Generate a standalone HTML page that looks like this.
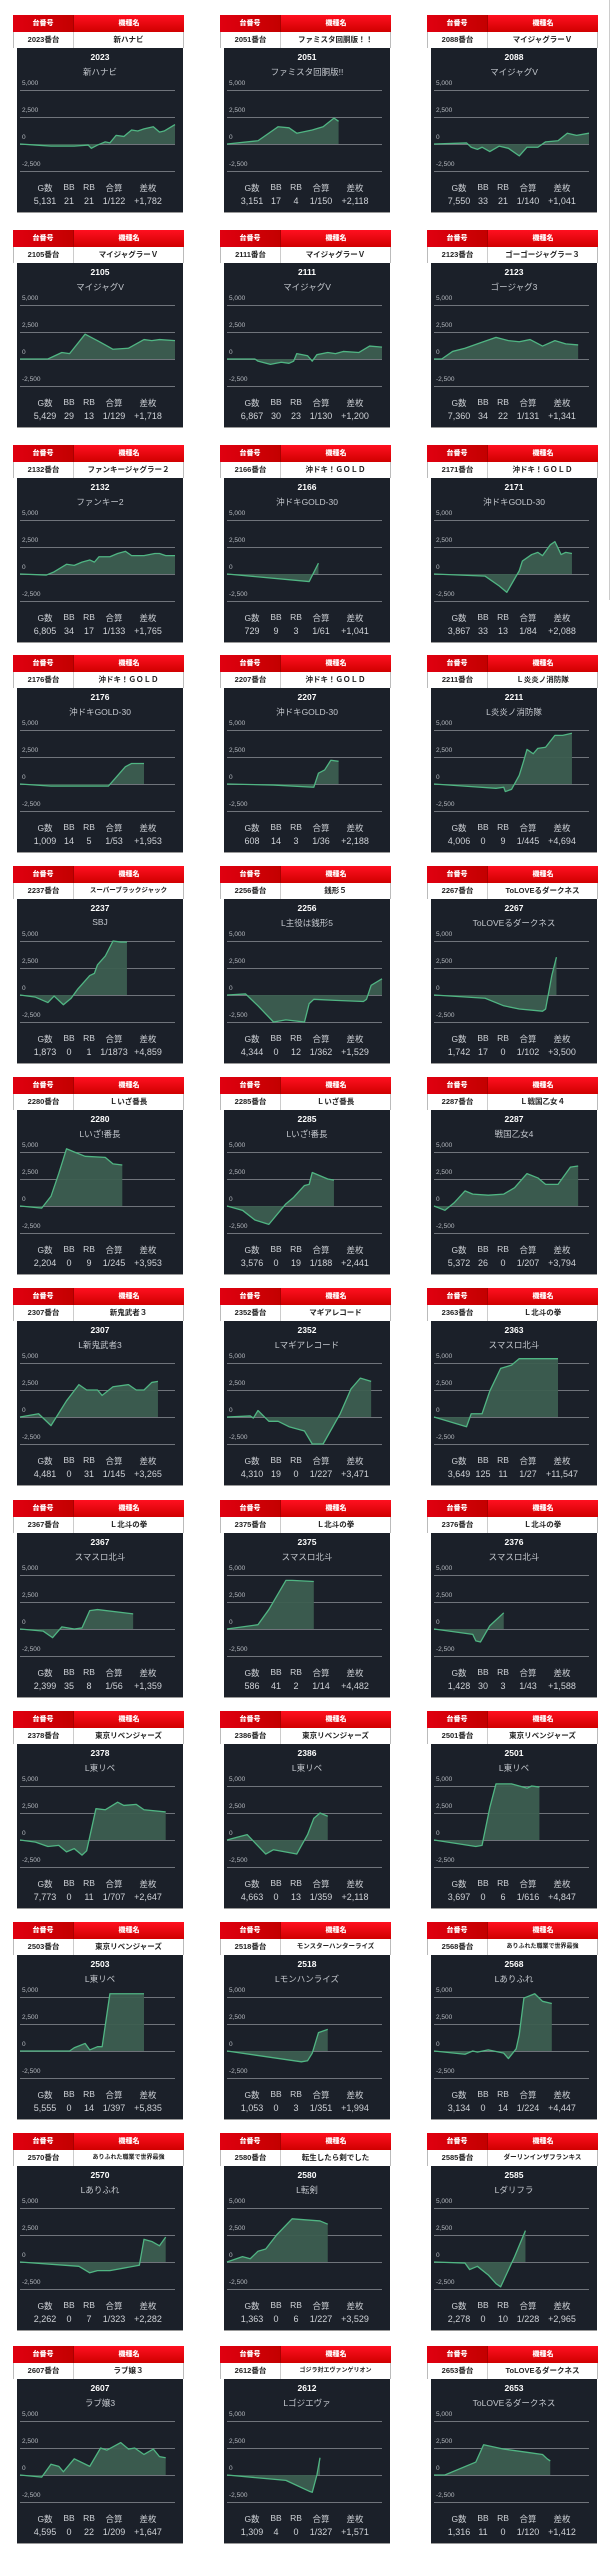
<!DOCTYPE html>
<html><head><meta charset="utf-8">
<style>
*{margin:0;padding:0;box-sizing:border-box}
body{width:611px;height:2560px;background:#fff;position:relative;overflow:hidden;font-family:"Liberation Sans","Noto Sans CJK JP",sans-serif}
.c{position:absolute;width:171px;height:200px}
.h{height:17px;background:linear-gradient(#ff1020,#d00000);display:flex;color:#fff;font-weight:bold;font-size:7px}
.h b{text-align:center;line-height:17px}
.h b:first-child{width:61px;background:linear-gradient(90deg,#e00010,#c40000);border-right:1px solid #a00}
.h b:last-child{flex:1}
.r{height:16px;background:#fff;display:flex;border-left:1px solid #bbb;border-right:1px solid #bbb;font-weight:bold;font-size:7.5px;color:#222;white-space:nowrap;overflow:hidden}
.r span{text-align:center;line-height:16px}
.r span:first-child{width:60px;border-right:1px solid #ccc;flex:none}
.r span:last-child{flex:1}
.p{position:absolute;left:4px;top:33px;width:166px;height:165px;background:#1b2029;border-bottom:1px solid #999}
.t{position:absolute;top:4px;left:0;width:100%;text-align:center;color:#fff;font-weight:bold;font-size:8.5px}
.n{position:absolute;top:18px;left:0;width:100%;text-align:center;color:#c4c8ce;font-size:8.5px;white-space:nowrap}
.g{position:absolute;left:3px;top:42px;width:155px;height:82px;background:repeating-linear-gradient(#70747b 0 1px,transparent 1px 27px)}
.l{position:absolute;left:5px;font-size:6.5px;color:#b5b9bf}
.l1{top:32px}.l2{top:59px}.l3{top:86px}.l4{top:113px}
svg{position:absolute;left:0;top:0;width:166px;height:165px;overflow:visible}
polygon{fill:#3c5e50;fill-opacity:.95}
polyline{fill:none;stroke:#50b583;stroke-width:1.3px;vector-effect:non-scaling-stroke;stroke-linejoin:round}
.s,.v{position:absolute;left:0;width:100%;height:12px;color:#cfd2d7;font-size:8.5px}
.s{top:134px}.v{top:148px;font-size:9px}
.s i,.v i{position:absolute;font-style:normal;transform:translateX(-50%);white-space:nowrap}
.s i:nth-child(1),.v i:nth-child(1){left:28px}
.s i:nth-child(2),.v i:nth-child(2){left:52px}
.s i:nth-child(3),.v i:nth-child(3){left:72px}
.s i:nth-child(4),.v i:nth-child(4){left:97px}
.s i:nth-child(5),.v i:nth-child(5){left:131px}
.sm{font-size:6px!important}
.rl{position:absolute;left:609px;top:0;width:1px;height:600px;background:#ccc}
</style></head><body>
<div class="rl"></div>

<div class="c" style="left:13px;top:15px"><div class="h"><b>台番号</b><b>機種名</b></div><div class="r"><span>2023番台</span><span>新ハナビ</span></div><div class="p"><div class="t">2023</div><div class="n">新ハナビ</div><div class="g"></div><div class="l l1">5,000</div><div class="l l2">2,500</div><div class="l l3">0</div><div class="l l4">-2,500</div><svg><g transform="translate(3,96) scale(1.55,-10.8)"><polygon points="0,0 10,-.1 20,-.2 35,-.2 44,-.1 46,-.4 50,-.1 55,.2 58,.1 62,.8 67,.7 72,1.3 76,1.2 80,1.4 86,1.6 90,1.1 93,1.2 100,1.8 100,0 0,0"/><polyline points="0,0 10,-.1 20,-.2 35,-.2 44,-.1 46,-.4 50,-.1 55,.2 58,.1 62,.8 67,.7 72,1.3 76,1.2 80,1.4 86,1.6 90,1.1 93,1.2 100,1.8"/></g></svg><div class="s"><i>G数</i><i>BB</i><i>RB</i><i>合算</i><i>差枚</i></div><div class="v"><i>5,131</i><i>21</i><i>21</i><i>1/122</i><i>+1,782</i></div></div></div>

<div class="c" style="left:220px;top:15px"><div class="h"><b>台番号</b><b>機種名</b></div><div class="r"><span>2051番台</span><span>ファミスタ回胴版！！</span></div><div class="p"><div class="t">2051</div><div class="n">ファミスタ回胴版!!</div><div class="g"></div><div class="l l1">5,000</div><div class="l l2">2,500</div><div class="l l3">0</div><div class="l l4">-2,500</div><svg><g transform="translate(3,96) scale(1.55,-10.8)"><polygon points="0,0 20,.3 33,1.6 40,1.5 45,1.0 55,1.3 62,1.6 69,2.4 72,2.1 72,0 0,0"/><polyline points="0,0 20,.3 33,1.6 40,1.5 45,1.0 55,1.3 62,1.6 69,2.4 72,2.1"/></g></svg><div class="s"><i>G数</i><i>BB</i><i>RB</i><i>合算</i><i>差枚</i></div><div class="v"><i>3,151</i><i>17</i><i>4</i><i>1/150</i><i>+2,118</i></div></div></div>

<div class="c" style="left:427px;top:15px"><div class="h"><b>台番号</b><b>機種名</b></div><div class="r"><span>2088番台</span><span>マイジャグラーＶ</span></div><div class="p"><div class="t">2088</div><div class="n">マイジャグV</div><div class="g"></div><div class="l l1">5,000</div><div class="l l2">2,500</div><div class="l l3">0</div><div class="l l4">-2,500</div><svg><g transform="translate(3,96) scale(1.55,-10.8)"><polygon points="0,0 21,.1 24,-.3 28,-.5 31,-.3 36,-.7 42,-.2 48,-.4 55,-1.1 60,-.3 67,-.3 72,.2 80,.3 86,1.0 92,.8 100,1.0 100,0 0,0"/><polyline points="0,0 21,.1 24,-.3 28,-.5 31,-.3 36,-.7 42,-.2 48,-.4 55,-1.1 60,-.3 67,-.3 72,.2 80,.3 86,1.0 92,.8 100,1.0"/></g></svg><div class="s"><i>G数</i><i>BB</i><i>RB</i><i>合算</i><i>差枚</i></div><div class="v"><i>7,550</i><i>33</i><i>21</i><i>1/140</i><i>+1,041</i></div></div></div>

<div class="c" style="left:13px;top:230px"><div class="h"><b>台番号</b><b>機種名</b></div><div class="r"><span>2105番台</span><span>マイジャグラーＶ</span></div><div class="p"><div class="t">2105</div><div class="n">マイジャグV</div><div class="g"></div><div class="l l1">5,000</div><div class="l l2">2,500</div><div class="l l3">0</div><div class="l l4">-2,500</div><svg><g transform="translate(3,96) scale(1.55,-10.8)"><polygon points="0,0 18,0 27,.6 32,.5 42,2.3 50,1.7 55,1.3 60,.9 70,1.0 80,1.8 85,1.7 90,1.8 100,1.7 100,0 0,0"/><polyline points="0,0 18,0 27,.6 32,.5 42,2.3 50,1.7 55,1.3 60,.9 70,1.0 80,1.8 85,1.7 90,1.8 100,1.7"/></g></svg><div class="s"><i>G数</i><i>BB</i><i>RB</i><i>合算</i><i>差枚</i></div><div class="v"><i>5,429</i><i>29</i><i>13</i><i>1/129</i><i>+1,718</i></div></div></div>

<div class="c" style="left:220px;top:230px"><div class="h"><b>台番号</b><b>機種名</b></div><div class="r"><span>2111番台</span><span>マイジャグラーＶ</span></div><div class="p"><div class="t">2111</div><div class="n">マイジャグV</div><div class="g"></div><div class="l l1">5,000</div><div class="l l2">2,500</div><div class="l l3">0</div><div class="l l4">-2,500</div><svg><g transform="translate(3,96) scale(1.55,-10.8)"><polygon points="0,0 18,0 20,-.2 28,-.5 35,-.3 40,-.4 43,-.2 45,.5 52,.3 55,-.2 58,.4 65,.6 70,.5 75,.7 85,.6 92,1.2 100,1.1 100,0 0,0"/><polyline points="0,0 18,0 20,-.2 28,-.5 35,-.3 40,-.4 43,-.2 45,.5 52,.3 55,-.2 58,.4 65,.6 70,.5 75,.7 85,.6 92,1.2 100,1.1"/></g></svg><div class="s"><i>G数</i><i>BB</i><i>RB</i><i>合算</i><i>差枚</i></div><div class="v"><i>6,867</i><i>30</i><i>23</i><i>1/130</i><i>+1,200</i></div></div></div>

<div class="c" style="left:427px;top:230px"><div class="h"><b>台番号</b><b>機種名</b></div><div class="r"><span>2123番台</span><span>ゴーゴージャグラー３</span></div><div class="p"><div class="t">2123</div><div class="n">ゴージャグ3</div><div class="g"></div><div class="l l1">5,000</div><div class="l l2">2,500</div><div class="l l3">0</div><div class="l l4">-2,500</div><svg><g transform="translate(3,96) scale(1.55,-10.8)"><polygon points="0,0 5,0 12,.7 20,1.0 30,1.5 40,2.0 48,1.7 55,1.6 62,1.8 70,1.2 78,1.7 85,1.4 93,1.3 93,0 0,0"/><polyline points="0,0 5,0 12,.7 20,1.0 30,1.5 40,2.0 48,1.7 55,1.6 62,1.8 70,1.2 78,1.7 85,1.4 93,1.3"/></g></svg><div class="s"><i>G数</i><i>BB</i><i>RB</i><i>合算</i><i>差枚</i></div><div class="v"><i>7,360</i><i>34</i><i>22</i><i>1/131</i><i>+1,341</i></div></div></div>

<div class="c" style="left:13px;top:445px"><div class="h"><b>台番号</b><b>機種名</b></div><div class="r"><span>2132番台</span><span>ファンキージャグラー２</span></div><div class="p"><div class="t">2132</div><div class="n">ファンキー2</div><div class="g"></div><div class="l l1">5,000</div><div class="l l2">2,500</div><div class="l l3">0</div><div class="l l4">-2,500</div><svg><g transform="translate(3,96) scale(1.55,-10.8)"><polygon points="0,0 17,-.1 22,.2 30,.9 35,.8 40,1.1 45,1.3 48,1.1 51,1.6 58,1.6 63,1.9 68,2.1 72,1.7 80,1.7 87,1.9 90,1.9 94,1.7 100,1.7 100,0 0,0"/><polyline points="0,0 17,-.1 22,.2 30,.9 35,.8 40,1.1 45,1.3 48,1.1 51,1.6 58,1.6 63,1.9 68,2.1 72,1.7 80,1.7 87,1.9 90,1.9 94,1.7 100,1.7"/></g></svg><div class="s"><i>G数</i><i>BB</i><i>RB</i><i>合算</i><i>差枚</i></div><div class="v"><i>6,805</i><i>34</i><i>17</i><i>1/133</i><i>+1,765</i></div></div></div>

<div class="c" style="left:220px;top:445px"><div class="h"><b>台番号</b><b>機種名</b></div><div class="r"><span>2166番台</span><span>沖ドキ！ＧＯＬＤ</span></div><div class="p"><div class="t">2166</div><div class="n">沖ドキGOLD-30</div><div class="g"></div><div class="l l1">5,000</div><div class="l l2">2,500</div><div class="l l3">0</div><div class="l l4">-2,500</div><svg><g transform="translate(3,96) scale(1.55,-10.8)"><polygon points="0,0 53,-.7 59,1.0 59,0 0,0"/><polyline points="0,0 53,-.7 59,1.0"/></g></svg><div class="s"><i>G数</i><i>BB</i><i>RB</i><i>合算</i><i>差枚</i></div><div class="v"><i>729</i><i>9</i><i>3</i><i>1/61</i><i>+1,041</i></div></div></div>

<div class="c" style="left:427px;top:445px"><div class="h"><b>台番号</b><b>機種名</b></div><div class="r"><span>2171番台</span><span>沖ドキ！ＧＯＬＤ</span></div><div class="p"><div class="t">2171</div><div class="n">沖ドキGOLD-30</div><div class="g"></div><div class="l l1">5,000</div><div class="l l2">2,500</div><div class="l l3">0</div><div class="l l4">-2,500</div><svg><g transform="translate(3,96) scale(1.55,-10.8)"><polygon points="0,0 33,-.2 42,-1.1 47,-1.7 55,.3 57,1.2 63,1.8 67,2.0 70,1.7 75,2.7 78,3.0 82,1.8 85,2.0 89,1.9 89,0 0,0"/><polyline points="0,0 33,-.2 42,-1.1 47,-1.7 55,.3 57,1.2 63,1.8 67,2.0 70,1.7 75,2.7 78,3.0 82,1.8 85,2.0 89,1.9"/></g></svg><div class="s"><i>G数</i><i>BB</i><i>RB</i><i>合算</i><i>差枚</i></div><div class="v"><i>3,867</i><i>33</i><i>13</i><i>1/84</i><i>+2,088</i></div></div></div>

<div class="c" style="left:13px;top:655px"><div class="h"><b>台番号</b><b>機種名</b></div><div class="r"><span>2176番台</span><span>沖ドキ！ＧＯＬＤ</span></div><div class="p"><div class="t">2176</div><div class="n">沖ドキGOLD-30</div><div class="g"></div><div class="l l1">5,000</div><div class="l l2">2,500</div><div class="l l3">0</div><div class="l l4">-2,500</div><svg><g transform="translate(3,96) scale(1.55,-10.8)"><polygon points="0,0 20,-.2 57,-.2 68,1.6 72,1.9 80,1.9 80,0 0,0"/><polyline points="0,0 20,-.2 57,-.2 68,1.6 72,1.9 80,1.9"/></g></svg><div class="s"><i>G数</i><i>BB</i><i>RB</i><i>合算</i><i>差枚</i></div><div class="v"><i>1,009</i><i>14</i><i>5</i><i>1/53</i><i>+1,953</i></div></div></div>

<div class="c" style="left:220px;top:655px"><div class="h"><b>台番号</b><b>機種名</b></div><div class="r"><span>2207番台</span><span>沖ドキ！ＧＯＬＤ</span></div><div class="p"><div class="t">2207</div><div class="n">沖ドキGOLD-30</div><div class="g"></div><div class="l l1">5,000</div><div class="l l2">2,500</div><div class="l l3">0</div><div class="l l4">-2,500</div><svg><g transform="translate(3,96) scale(1.55,-10.8)"><polygon points="0,0 30,-.1 56,-.3 59,1.0 63,1.3 67,2.2 72,2.1 72,0 0,0"/><polyline points="0,0 30,-.1 56,-.3 59,1.0 63,1.3 67,2.2 72,2.1"/></g></svg><div class="s"><i>G数</i><i>BB</i><i>RB</i><i>合算</i><i>差枚</i></div><div class="v"><i>608</i><i>14</i><i>3</i><i>1/36</i><i>+2,188</i></div></div></div>

<div class="c" style="left:427px;top:655px"><div class="h"><b>台番号</b><b>機種名</b></div><div class="r"><span>2211番台</span><span>Ｌ炎炎ノ消防隊</span></div><div class="p"><div class="t">2211</div><div class="n">L炎炎ノ消防隊</div><div class="g"></div><div class="l l1">5,000</div><div class="l l2">2,500</div><div class="l l3">0</div><div class="l l4">-2,500</div><svg><g transform="translate(3,96) scale(1.55,-10.8)"><polygon points="0,0 30,-.3 40,-.4 45,-.3 46,-.7 50,-.5 55,.8 58,2.2 60,3.2 64,2.8 67,3.3 72,3.4 78,4.5 83,4.5 89,4.7 89,0 0,0"/><polyline points="0,0 30,-.3 40,-.4 45,-.3 46,-.7 50,-.5 55,.8 58,2.2 60,3.2 64,2.8 67,3.3 72,3.4 78,4.5 83,4.5 89,4.7"/></g></svg><div class="s"><i>G数</i><i>BB</i><i>RB</i><i>合算</i><i>差枚</i></div><div class="v"><i>4,006</i><i>0</i><i>9</i><i>1/445</i><i>+4,694</i></div></div></div>

<div class="c" style="left:13px;top:866px"><div class="h"><b>台番号</b><b>機種名</b></div><div class="r"><span>2237番台</span><span style="font-size:6.5px">スーパーブラックジャック</span></div><div class="p"><div class="t">2237</div><div class="n">SBJ</div><div class="g"></div><div class="l l1">5,000</div><div class="l l2">2,500</div><div class="l l3">0</div><div class="l l4">-2,500</div><svg><g transform="translate(3,96) scale(1.55,-10.8)"><polygon points="0,0 10,-.2 18,-.7 22,-.1 28,-.9 33,-.3 37,.5 45,1.8 48,2.0 50,2.8 55,3.6 60,5.0 65,4.9 69,4.9 69,0 0,0"/><polyline points="0,0 10,-.2 18,-.7 22,-.1 28,-.9 33,-.3 37,.5 45,1.8 48,2.0 50,2.8 55,3.6 60,5.0 65,4.9 69,4.9"/></g></svg><div class="s"><i>G数</i><i>BB</i><i>RB</i><i>合算</i><i>差枚</i></div><div class="v"><i>1,873</i><i>0</i><i>1</i><i>1/1873</i><i>+4,859</i></div></div></div>

<div class="c" style="left:220px;top:866px"><div class="h"><b>台番号</b><b>機種名</b></div><div class="r"><span>2256番台</span><span>銭形５</span></div><div class="p"><div class="t">2256</div><div class="n">L主役は銭形5</div><div class="g"></div><div class="l l1">5,000</div><div class="l l2">2,500</div><div class="l l3">0</div><div class="l l4">-2,500</div><svg><g transform="translate(3,96) scale(1.55,-10.8)"><polygon points="0,0 12,.1 20,-1.0 30,-2.5 38,-2.3 50,-2.5 53,-.8 56,-.4 70,-.5 88,-.6 90,-.4 93,.9 100,1.5 100,0 0,0"/><polyline points="0,0 12,.1 20,-1.0 30,-2.5 38,-2.3 50,-2.5 53,-.8 56,-.4 70,-.5 88,-.6 90,-.4 93,.9 100,1.5"/></g></svg><div class="s"><i>G数</i><i>BB</i><i>RB</i><i>合算</i><i>差枚</i></div><div class="v"><i>4,344</i><i>0</i><i>12</i><i>1/362</i><i>+1,529</i></div></div></div>

<div class="c" style="left:427px;top:866px"><div class="h"><b>台番号</b><b>機種名</b></div><div class="r"><span>2267番台</span><span>ToLOVEるダークネス</span></div><div class="p"><div class="t">2267</div><div class="n">ToLOVEるダークネス</div><div class="g"></div><div class="l l1">5,000</div><div class="l l2">2,500</div><div class="l l3">0</div><div class="l l4">-2,500</div><svg><g transform="translate(3,96) scale(1.55,-10.8)"><polygon points="0,0 33,-.3 45,-1.0 55,-1.3 70,-1.5 72,-1.3 76,1.8 79,3.5 79,0 0,0"/><polyline points="0,0 33,-.3 45,-1.0 55,-1.3 70,-1.5 72,-1.3 76,1.8 79,3.5"/></g></svg><div class="s"><i>G数</i><i>BB</i><i>RB</i><i>合算</i><i>差枚</i></div><div class="v"><i>1,742</i><i>17</i><i>0</i><i>1/102</i><i>+3,500</i></div></div></div>

<div class="c" style="left:13px;top:1077px"><div class="h"><b>台番号</b><b>機種名</b></div><div class="r"><span>2280番台</span><span>Ｌいざ番長</span></div><div class="p"><div class="t">2280</div><div class="n">Lいざ!番長</div><div class="g"></div><div class="l l1">5,000</div><div class="l l2">2,500</div><div class="l l3">0</div><div class="l l4">-2,500</div><svg><g transform="translate(3,96) scale(1.55,-10.8)"><polygon points="0,0 14,-.2 20,.9 25,3.0 30,5.3 35,5.0 42,4.6 55,4.5 60,3.9 66,3.8 66,0 0,0"/><polyline points="0,0 14,-.2 20,.9 25,3.0 30,5.3 35,5.0 42,4.6 55,4.5 60,3.9 66,3.8"/></g></svg><div class="s"><i>G数</i><i>BB</i><i>RB</i><i>合算</i><i>差枚</i></div><div class="v"><i>2,204</i><i>0</i><i>9</i><i>1/245</i><i>+3,953</i></div></div></div>

<div class="c" style="left:220px;top:1077px"><div class="h"><b>台番号</b><b>機種名</b></div><div class="r"><span>2285番台</span><span>Ｌいざ番長</span></div><div class="p"><div class="t">2285</div><div class="n">Lいざ!番長</div><div class="g"></div><div class="l l1">5,000</div><div class="l l2">2,500</div><div class="l l3">0</div><div class="l l4">-2,500</div><svg><g transform="translate(3,96) scale(1.55,-10.8)"><polygon points="0,0 10,-.4 18,-1.3 27,-1.7 38,.2 43,.8 50,1.9 53,2.0 55,3.1 65,2.5 69,2.4 69,0 0,0"/><polyline points="0,0 10,-.4 18,-1.3 27,-1.7 38,.2 43,.8 50,1.9 53,2.0 55,3.1 65,2.5 69,2.4"/></g></svg><div class="s"><i>G数</i><i>BB</i><i>RB</i><i>合算</i><i>差枚</i></div><div class="v"><i>3,576</i><i>0</i><i>19</i><i>1/188</i><i>+2,441</i></div></div></div>

<div class="c" style="left:427px;top:1077px"><div class="h"><b>台番号</b><b>機種名</b></div><div class="r"><span>2287番台</span><span>Ｌ戦国乙女４</span></div><div class="p"><div class="t">2287</div><div class="n">戦国乙女4</div><div class="g"></div><div class="l l1">5,000</div><div class="l l2">2,500</div><div class="l l3">0</div><div class="l l4">-2,500</div><svg><g transform="translate(3,96) scale(1.55,-10.8)"><polygon points="0,0 7,-.4 13,.3 20,1.4 25,1.1 35,1.0 45,1.1 52,1.7 60,3.0 67,2.6 72,2.0 80,2.0 88,3.6 93,3.7 93,0 0,0"/><polyline points="0,0 7,-.4 13,.3 20,1.4 25,1.1 35,1.0 45,1.1 52,1.7 60,3.0 67,2.6 72,2.0 80,2.0 88,3.6 93,3.7"/></g></svg><div class="s"><i>G数</i><i>BB</i><i>RB</i><i>合算</i><i>差枚</i></div><div class="v"><i>5,372</i><i>26</i><i>0</i><i>1/207</i><i>+3,794</i></div></div></div>

<div class="c" style="left:13px;top:1288px"><div class="h"><b>台番号</b><b>機種名</b></div><div class="r"><span>2307番台</span><span>新鬼武者３</span></div><div class="p"><div class="t">2307</div><div class="n">L新鬼武者3</div><div class="g"></div><div class="l l1">5,000</div><div class="l l2">2,500</div><div class="l l3">0</div><div class="l l4">-2,500</div><svg><g transform="translate(3,96) scale(1.55,-10.8)"><polygon points="0,0 12,.3 20,-.8 30,1.5 38,3.0 43,2.5 50,2.5 53,2.0 60,2.8 70,3.0 75,2.5 80,2.5 85,3.2 89,3.3 89,0 0,0"/><polyline points="0,0 12,.3 20,-.8 30,1.5 38,3.0 43,2.5 50,2.5 53,2.0 60,2.8 70,3.0 75,2.5 80,2.5 85,3.2 89,3.3"/></g></svg><div class="s"><i>G数</i><i>BB</i><i>RB</i><i>合算</i><i>差枚</i></div><div class="v"><i>4,481</i><i>0</i><i>31</i><i>1/145</i><i>+3,265</i></div></div></div>

<div class="c" style="left:220px;top:1288px"><div class="h"><b>台番号</b><b>機種名</b></div><div class="r"><span>2352番台</span><span>マギアレコード</span></div><div class="p"><div class="t">2352</div><div class="n">Lマギアレコード</div><div class="g"></div><div class="l l1">5,000</div><div class="l l2">2,500</div><div class="l l3">0</div><div class="l l4">-2,500</div><svg><g transform="translate(3,96) scale(1.55,-10.8)"><polygon points="0,0 15,.1 17,-.1 20,.6 27,-.4 33,-.4 40,-.9 50,-1.3 55,-2.5 62,-2.5 73,.3 80,2.6 86,3.6 93,3.3 93,0 0,0"/><polyline points="0,0 15,.1 17,-.1 20,.6 27,-.4 33,-.4 40,-.9 50,-1.3 55,-2.5 62,-2.5 73,.3 80,2.6 86,3.6 93,3.3"/></g></svg><div class="s"><i>G数</i><i>BB</i><i>RB</i><i>合算</i><i>差枚</i></div><div class="v"><i>4,310</i><i>19</i><i>0</i><i>1/227</i><i>+3,471</i></div></div></div>

<div class="c" style="left:427px;top:1288px"><div class="h"><b>台番号</b><b>機種名</b></div><div class="r"><span>2363番台</span><span>Ｌ北斗の拳</span></div><div class="p"><div class="t">2363</div><div class="n">スマスロ北斗</div><div class="g"></div><div class="l l1">5,000</div><div class="l l2">2,500</div><div class="l l3">0</div><div class="l l4">-2,500</div><svg><g transform="translate(3,96) scale(1.55,-10.8)"><polygon points="0,0 21,-.9 24,.3 31,.3 36,2.4 43,4.5 50,4.8 55,5.4 80,5.4 80,0 0,0"/><polyline points="0,0 21,-.9 24,.3 31,.3 36,2.4 43,4.5 50,4.8 55,5.4 80,5.4"/></g></svg><div class="s"><i>G数</i><i>BB</i><i>RB</i><i>合算</i><i>差枚</i></div><div class="v"><i>3,649</i><i>125</i><i>11</i><i>1/27</i><i>+11,547</i></div></div></div>

<div class="c" style="left:13px;top:1500px"><div class="h"><b>台番号</b><b>機種名</b></div><div class="r"><span>2367番台</span><span>Ｌ北斗の拳</span></div><div class="p"><div class="t">2367</div><div class="n">スマスロ北斗</div><div class="g"></div><div class="l l1">5,000</div><div class="l l2">2,500</div><div class="l l3">0</div><div class="l l4">-2,500</div><svg><g transform="translate(3,96) scale(1.55,-10.8)"><polygon points="0,0 15,-.2 21,-.8 27,.2 35,0 40,.1 45,1.7 50,1.8 73,1.4 73,0 0,0"/><polyline points="0,0 15,-.2 21,-.8 27,.2 35,0 40,.1 45,1.7 50,1.8 73,1.4"/></g></svg><div class="s"><i>G数</i><i>BB</i><i>RB</i><i>合算</i><i>差枚</i></div><div class="v"><i>2,399</i><i>35</i><i>8</i><i>1/56</i><i>+1,359</i></div></div></div>

<div class="c" style="left:220px;top:1500px"><div class="h"><b>台番号</b><b>機種名</b></div><div class="r"><span>2375番台</span><span>Ｌ北斗の拳</span></div><div class="p"><div class="t">2375</div><div class="n">スマスロ北斗</div><div class="g"></div><div class="l l1">5,000</div><div class="l l2">2,500</div><div class="l l3">0</div><div class="l l4">-2,500</div><svg><g transform="translate(3,96) scale(1.55,-10.8)"><polygon points="0,0 20,.4 27,1.8 38,4.5 42,4.5 56,4.4 56,0 0,0"/><polyline points="0,0 20,.4 27,1.8 38,4.5 42,4.5 56,4.4"/></g></svg><div class="s"><i>G数</i><i>BB</i><i>RB</i><i>合算</i><i>差枚</i></div><div class="v"><i>586</i><i>41</i><i>2</i><i>1/14</i><i>+4,482</i></div></div></div>

<div class="c" style="left:427px;top:1500px"><div class="h"><b>台番号</b><b>機種名</b></div><div class="r"><span>2376番台</span><span>Ｌ北斗の拳</span></div><div class="p"><div class="t">2376</div><div class="n">スマスロ北斗</div><div class="g"></div><div class="l l1">5,000</div><div class="l l2">2,500</div><div class="l l3">0</div><div class="l l4">-2,500</div><svg><g transform="translate(3,96) scale(1.55,-10.8)"><polygon points="0,0 25,-.5 27,-1.1 30,-1.2 36,.3 45,1.5 45,0 0,0"/><polyline points="0,0 25,-.5 27,-1.1 30,-1.2 36,.3 45,1.5"/></g></svg><div class="s"><i>G数</i><i>BB</i><i>RB</i><i>合算</i><i>差枚</i></div><div class="v"><i>1,428</i><i>30</i><i>3</i><i>1/43</i><i>+1,588</i></div></div></div>

<div class="c" style="left:13px;top:1711px"><div class="h"><b>台番号</b><b>機種名</b></div><div class="r"><span>2378番台</span><span>東京リベンジャーズ</span></div><div class="p"><div class="t">2378</div><div class="n">L東リベ</div><div class="g"></div><div class="l l1">5,000</div><div class="l l2">2,500</div><div class="l l3">0</div><div class="l l4">-2,500</div><svg><g transform="translate(3,96) scale(1.55,-10.8)"><polygon points="0,0 10,-.2 18,-.6 25,-.5 30,-1.1 35,-.8 40,-1.4 43,-1.0 49,2.9 55,2.8 63,3.5 67,3.2 75,3.3 80,2.8 94,2.6 94,0 0,0"/><polyline points="0,0 10,-.2 18,-.6 25,-.5 30,-1.1 35,-.8 40,-1.4 43,-1.0 49,2.9 55,2.8 63,3.5 67,3.2 75,3.3 80,2.8 94,2.6"/></g></svg><div class="s"><i>G数</i><i>BB</i><i>RB</i><i>合算</i><i>差枚</i></div><div class="v"><i>7,773</i><i>0</i><i>11</i><i>1/707</i><i>+2,647</i></div></div></div>

<div class="c" style="left:220px;top:1711px"><div class="h"><b>台番号</b><b>機種名</b></div><div class="r"><span>2386番台</span><span>東京リベンジャーズ</span></div><div class="p"><div class="t">2386</div><div class="n">L東リベ</div><div class="g"></div><div class="l l1">5,000</div><div class="l l2">2,500</div><div class="l l3">0</div><div class="l l4">-2,500</div><svg><g transform="translate(3,96) scale(1.55,-10.8)"><polygon points="0,0 5,.2 13,.5 25,-1.3 30,-.9 45,-1.3 52,.5 56,2.0 60,2.5 65,2.2 65,0 0,0"/><polyline points="0,0 5,.2 13,.5 25,-1.3 30,-.9 45,-1.3 52,.5 56,2.0 60,2.5 65,2.2"/></g></svg><div class="s"><i>G数</i><i>BB</i><i>RB</i><i>合算</i><i>差枚</i></div><div class="v"><i>4,663</i><i>0</i><i>13</i><i>1/359</i><i>+2,118</i></div></div></div>

<div class="c" style="left:427px;top:1711px"><div class="h"><b>台番号</b><b>機種名</b></div><div class="r"><span>2501番台</span><span>東京リベンジャーズ</span></div><div class="p"><div class="t">2501</div><div class="n">L東リベ</div><div class="g"></div><div class="l l1">5,000</div><div class="l l2">2,500</div><div class="l l3">0</div><div class="l l4">-2,500</div><svg><g transform="translate(3,96) scale(1.55,-10.8)"><polygon points="0,0 27,-.6 31,-.5 36,3.0 40,5.2 50,5.2 60,4.8 63,5.0 68,4.9 68,0 0,0"/><polyline points="0,0 27,-.6 31,-.5 36,3.0 40,5.2 50,5.2 60,4.8 63,5.0 68,4.9"/></g></svg><div class="s"><i>G数</i><i>BB</i><i>RB</i><i>合算</i><i>差枚</i></div><div class="v"><i>3,697</i><i>0</i><i>6</i><i>1/616</i><i>+4,847</i></div></div></div>

<div class="c" style="left:13px;top:1922px"><div class="h"><b>台番号</b><b>機種名</b></div><div class="r"><span>2503番台</span><span>東京リベンジャーズ</span></div><div class="p"><div class="t">2503</div><div class="n">L東リベ</div><div class="g"></div><div class="l l1">5,000</div><div class="l l2">2,500</div><div class="l l3">0</div><div class="l l4">-2,500</div><svg><g transform="translate(3,96) scale(1.55,-10.8)"><polygon points="0,0 32,0 35,.3 42,.7 45,.1 50,.4 53,.4 58,5.3 80,5.3 80,0 0,0"/><polyline points="0,0 32,0 35,.3 42,.7 45,.1 50,.4 53,.4 58,5.3 80,5.3"/></g></svg><div class="s"><i>G数</i><i>BB</i><i>RB</i><i>合算</i><i>差枚</i></div><div class="v"><i>5,555</i><i>0</i><i>14</i><i>1/397</i><i>+5,835</i></div></div></div>

<div class="c" style="left:220px;top:1922px"><div class="h"><b>台番号</b><b>機種名</b></div><div class="r"><span>2518番台</span><span style="font-size:6.5px">モンスターハンターライズ</span></div><div class="p"><div class="t">2518</div><div class="n">Lモンハンライズ</div><div class="g"></div><div class="l l1">5,000</div><div class="l l2">2,500</div><div class="l l3">0</div><div class="l l4">-2,500</div><svg><g transform="translate(3,96) scale(1.55,-10.8)"><polygon points="0,0 48,-1.0 52,-.9 55,-.2 59,1.7 65,2.0 65,0 0,0"/><polyline points="0,0 48,-1.0 52,-.9 55,-.2 59,1.7 65,2.0"/></g></svg><div class="s"><i>G数</i><i>BB</i><i>RB</i><i>合算</i><i>差枚</i></div><div class="v"><i>1,053</i><i>0</i><i>3</i><i>1/351</i><i>+1,994</i></div></div></div>

<div class="c" style="left:427px;top:1922px"><div class="h"><b>台番号</b><b>機種名</b></div><div class="r"><span>2568番台</span><span style="font-size:6px">ありふれた職業で世界最強</span></div><div class="p"><div class="t">2568</div><div class="n">Lありふれ</div><div class="g"></div><div class="l l1">5,000</div><div class="l l2">2,500</div><div class="l l3">0</div><div class="l l4">-2,500</div><svg><g transform="translate(3,96) scale(1.55,-10.8)"><polygon points="0,0 20,-.3 25,0 28,-.1 35,.1 45,-.2 48,-.7 53,.2 55,1.5 58,4.9 65,5.3 70,4.6 76,4.4 76,0 0,0"/><polyline points="0,0 20,-.3 25,0 28,-.1 35,.1 45,-.2 48,-.7 53,.2 55,1.5 58,4.9 65,5.3 70,4.6 76,4.4"/></g></svg><div class="s"><i>G数</i><i>BB</i><i>RB</i><i>合算</i><i>差枚</i></div><div class="v"><i>3,134</i><i>0</i><i>14</i><i>1/224</i><i>+4,447</i></div></div></div>

<div class="c" style="left:13px;top:2133px"><div class="h"><b>台番号</b><b>機種名</b></div><div class="r"><span>2570番台</span><span style="font-size:6px">ありふれた職業で世界最強</span></div><div class="p"><div class="t">2570</div><div class="n">Lありふれ</div><div class="g"></div><div class="l l1">5,000</div><div class="l l2">2,500</div><div class="l l3">0</div><div class="l l4">-2,500</div><svg><g transform="translate(3,96) scale(1.55,-10.8)"><polygon points="0,0 38,-.4 45,-1.0 50,-.8 58,-.8 77,-.3 80,2.1 85,1.9 90,1.5 94,2.3 94,0 0,0"/><polyline points="0,0 38,-.4 45,-1.0 50,-.8 58,-.8 77,-.3 80,2.1 85,1.9 90,1.5 94,2.3"/></g></svg><div class="s"><i>G数</i><i>BB</i><i>RB</i><i>合算</i><i>差枚</i></div><div class="v"><i>2,262</i><i>0</i><i>7</i><i>1/323</i><i>+2,282</i></div></div></div>

<div class="c" style="left:220px;top:2133px"><div class="h"><b>台番号</b><b>機種名</b></div><div class="r"><span>2580番台</span><span>転生したら剣でした</span></div><div class="p"><div class="t">2580</div><div class="n">L転剣</div><div class="g"></div><div class="l l1">5,000</div><div class="l l2">2,500</div><div class="l l3">0</div><div class="l l4">-2,500</div><svg><g transform="translate(3,96) scale(1.55,-10.8)"><polygon points="0,0 10,.5 15,.3 20,1.0 25,1.2 32,2.5 42,4.0 60,3.8 65,3.5 65,0 0,0"/><polyline points="0,0 10,.5 15,.3 20,1.0 25,1.2 32,2.5 42,4.0 60,3.8 65,3.5"/></g></svg><div class="s"><i>G数</i><i>BB</i><i>RB</i><i>合算</i><i>差枚</i></div><div class="v"><i>1,363</i><i>0</i><i>6</i><i>1/227</i><i>+3,529</i></div></div></div>

<div class="c" style="left:427px;top:2133px"><div class="h"><b>台番号</b><b>機種名</b></div><div class="r"><span>2585番台</span><span style="font-size:6.5px">ダーリンインザフランキス</span></div><div class="p"><div class="t">2585</div><div class="n">Lダリフラ</div><div class="g"></div><div class="l l1">5,000</div><div class="l l2">2,500</div><div class="l l3">0</div><div class="l l4">-2,500</div><svg><g transform="translate(3,96) scale(1.55,-10.8)"><polygon points="0,0 20,-.1 23,-.7 28,-.4 35,-1.2 40,-2.0 43,-2.3 52,.5 59,2.9 59,0 0,0"/><polyline points="0,0 20,-.1 23,-.7 28,-.4 35,-1.2 40,-2.0 43,-2.3 52,.5 59,2.9"/></g></svg><div class="s"><i>G数</i><i>BB</i><i>RB</i><i>合算</i><i>差枚</i></div><div class="v"><i>2,278</i><i>0</i><i>10</i><i>1/228</i><i>+2,965</i></div></div></div>

<div class="c" style="left:13px;top:2346px"><div class="h"><b>台番号</b><b>機種名</b></div><div class="r"><span>2607番台</span><span>ラブ嬢３</span></div><div class="p"><div class="t">2607</div><div class="n">ラブ嬢3</div><div class="g"></div><div class="l l1">5,000</div><div class="l l2">2,500</div><div class="l l3">0</div><div class="l l4">-2,500</div><svg><g transform="translate(3,96) scale(1.55,-10.8)"><polygon points="0,0 14,-.2 20,1.0 25,.8 28,.3 35,1.5 45,.8 52,2.5 56,2.3 65,3.0 70,2.4 74,2.5 80,1.9 86,2.4 90,1.7 94,1.6 94,0 0,0"/><polyline points="0,0 14,-.2 20,1.0 25,.8 28,.3 35,1.5 45,.8 52,2.5 56,2.3 65,3.0 70,2.4 74,2.5 80,1.9 86,2.4 90,1.7 94,1.6"/></g></svg><div class="s"><i>G数</i><i>BB</i><i>RB</i><i>合算</i><i>差枚</i></div><div class="v"><i>4,595</i><i>0</i><i>22</i><i>1/209</i><i>+1,647</i></div></div></div>

<div class="c" style="left:220px;top:2346px"><div class="h"><b>台番号</b><b>機種名</b></div><div class="r"><span>2612番台</span><span style="font-size:6px">ゴジラ対エヴァンゲリオン</span></div><div class="p"><div class="t">2612</div><div class="n">Lゴジエヴァ</div><div class="g"></div><div class="l l1">5,000</div><div class="l l2">2,500</div><div class="l l3">0</div><div class="l l4">-2,500</div><svg><g transform="translate(3,96) scale(1.55,-10.8)"><polygon points="0,0 38,-.5 53,-1.5 55,-1.6 58,0 60,1.6 60,0 0,0"/><polyline points="0,0 38,-.5 53,-1.5 55,-1.6 58,0 60,1.6"/></g></svg><div class="s"><i>G数</i><i>BB</i><i>RB</i><i>合算</i><i>差枚</i></div><div class="v"><i>1,309</i><i>4</i><i>0</i><i>1/327</i><i>+1,571</i></div></div></div>

<div class="c" style="left:427px;top:2346px"><div class="h"><b>台番号</b><b>機種名</b></div><div class="r"><span>2653番台</span><span>ToLOVEるダークネス</span></div><div class="p"><div class="t">2653</div><div class="n">ToLOVEるダークネス</div><div class="g"></div><div class="l l1">5,000</div><div class="l l2">2,500</div><div class="l l3">0</div><div class="l l4">-2,500</div><svg><g transform="translate(3,96) scale(1.55,-10.8)"><polygon points="0,0 7,0 27,1.2 32,2.8 45,2.4 60,2.1 70,1.9 73,1.5 75,1.3 75,0 0,0"/><polyline points="0,0 7,0 27,1.2 32,2.8 45,2.4 60,2.1 70,1.9 73,1.5 75,1.3"/></g></svg><div class="s"><i>G数</i><i>BB</i><i>RB</i><i>合算</i><i>差枚</i></div><div class="v"><i>1,316</i><i>11</i><i>0</i><i>1/120</i><i>+1,412</i></div></div></div>

</body></html>
